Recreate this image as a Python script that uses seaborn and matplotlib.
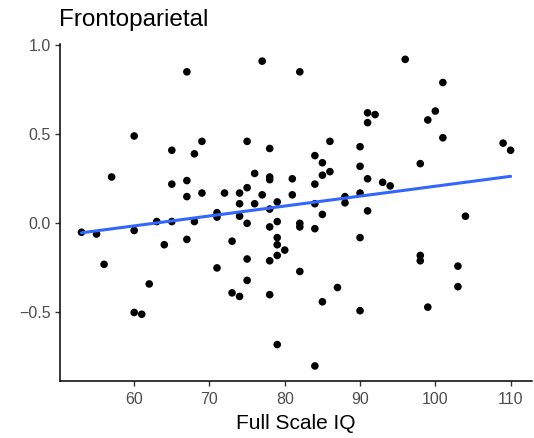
import matplotlib
matplotlib.use("Agg")
import matplotlib.pyplot as plt
import numpy as np
import pandas as pd
import seaborn as sns

# Full Scale IQ and frontoparietal connectivity per participant
fsiq = [53, 55, 56, 57, 60, 60, 60, 61, 62, 63, 64, 65, 65, 65, 67, 67, 67, 67,
        68, 68, 69, 69, 71, 71, 71, 72, 73, 73, 74, 74, 74, 74, 75, 75, 75, 75,
        75, 76, 76, 77, 77, 78, 78, 78, 78, 78, 78, 78, 79, 79, 79, 79, 79, 79,
        80, 81, 81, 82, 82, 82, 82, 84, 84, 84, 84, 84, 85, 85, 85, 85, 86, 86,
        87, 88, 88, 90, 90, 90, 90, 90, 91, 91, 91, 91, 92, 93, 94, 96, 98, 98,
        98, 99, 99, 100, 101, 101, 103, 103, 104, 109, 110]
frontoparietal = [-0.05, -0.06, -0.23, 0.26, 0.49, -0.04, -0.50, -0.51, -0.34,
                  0.01, -0.12, 0.41, 0.22, 0.01, 0.85, 0.24, 0.15, -0.09, 0.39,
                  0.01, 0.46, 0.17, 0.06, 0.035, -0.25, 0.17, -0.10, -0.39, 0.17,
                  0.11, 0.04, -0.41, 0.46, 0.20, 0.00, -0.20, -0.32, 0.28, 0.11,
                  0.91, 0.16, 0.42, 0.26, 0.245, 0.08, -0.02, -0.21, -0.40, 0.12,
                  0.01, -0.08, -0.12, -0.18, -0.68, -0.15, 0.25, 0.16, 0.85, 0.00,
                  -0.02, -0.27, 0.38, 0.22, 0.11, -0.03, -0.80, 0.34, 0.27, 0.05,
                  -0.44, 0.46, 0.29, -0.36, 0.15, 0.115, 0.43, 0.32, 0.17, -0.08,
                  -0.49, 0.62, 0.565, 0.25, 0.07, 0.61, 0.23, 0.21, 0.92, 0.335,
                  -0.18, -0.21, 0.58, -0.47, 0.63, 0.79, 0.48, -0.24, -0.355,
                  0.04, 0.45, 0.41]

x_ticks = [60, 70, 80, 90, 100, 110]
y_ticks = [-0.5, 0.0, 0.5, 1.0]

df = pd.DataFrame({"Full Scale IQ": fsiq, "Frontoparietal": frontoparietal})

sns.set_theme(style="ticks")
plt.rcParams["font.family"] = ["Liberation Sans", "DejaVu Sans"]

fig = plt.figure(figsize=(5.34, 4.38), dpi=100)
ax = fig.add_axes([0.1124, 0.1295, 0.884, 0.770])

sns.regplot(data=df, x="Full Scale IQ", y="Frontoparietal", ci=None, ax=ax,
            scatter_kws=dict(s=30, color="black", edgecolor="none", alpha=1),
            line_kws=dict(color="#3366FF", linewidth=2.2))

def expand(vals, frac=0.05):
    lo, hi = min(vals), max(vals)
    pad = (hi - lo) * frac
    return lo - pad, hi + pad

ax.set_xlim(*expand(fsiq))
ax.set_ylim(*expand(frontoparietal))
ax.set_xticks(x_ticks)
ax.set_xticklabels([str(t) for t in x_ticks])
ax.set_yticks(y_ticks)
ax.set_yticklabels(["\u22120.5", "0.0", "0.5", "1.0"])

for side in ["top", "right"]:
    ax.spines[side].set_visible(False)
for side in ["left", "bottom"]:
    ax.spines[side].set_color("black")
    ax.spines[side].set_linewidth(1.1)

ax.tick_params(axis="both", colors="#333333", labelcolor="#4D4D4D",
               labelsize=11.5, length=3.5, width=1.0, pad=3)
ax.tick_params(axis="x", pad=4)
ax.set_xlabel("Full Scale IQ", fontsize=15, color="black", labelpad=5)
ax.set_ylabel("")
ax.set_title("Frontoparietal", fontsize=17.5, loc="left", color="black",
             pad=13, x=-0.002)

fig.savefig("out.png", dpi=100)
